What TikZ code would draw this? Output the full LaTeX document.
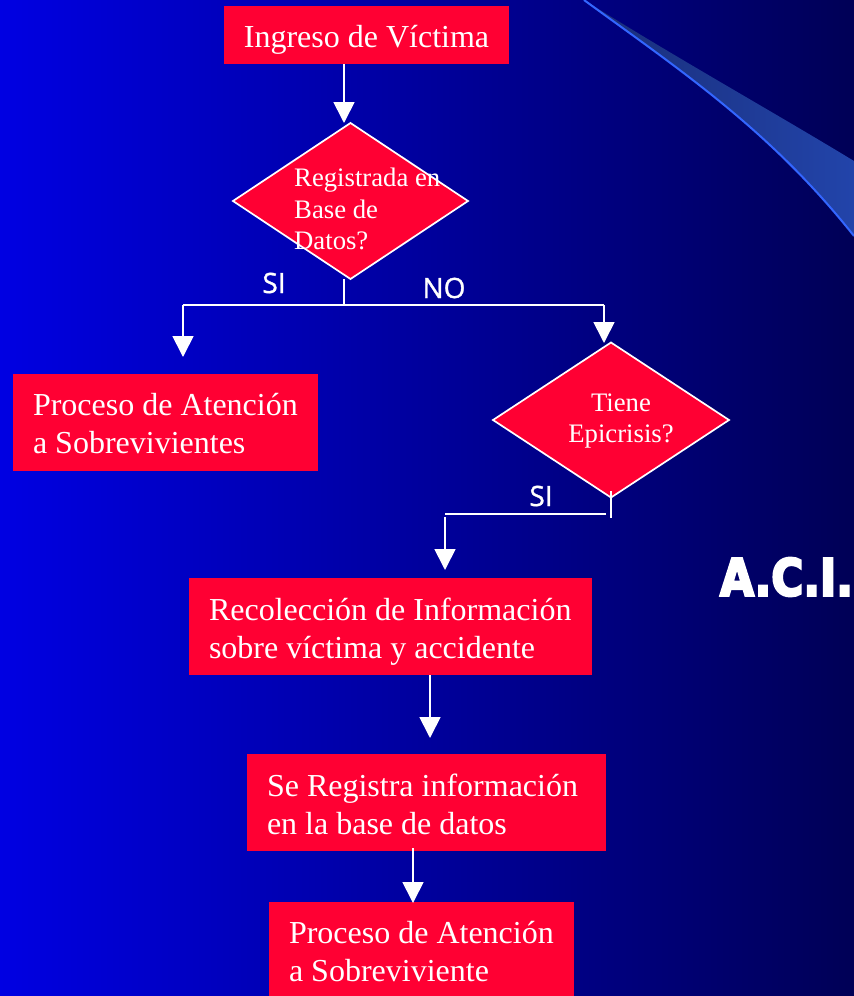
\documentclass[tikz,border=0pt]{standalone}
\usepackage{fontspec}
\setmainfont{Liberation Serif}
\newfontfamily\labelfont[FakeBold=1.1]{Open Sans}
\newfontfamily\acifont[FakeBold=5]{DejaVu Sans Bold}
\usetikzlibrary{shapes.geometric,arrows.meta}
\definecolor{boxred}{RGB}{255,0,51}
\definecolor{bgleft}{RGB}{0,0,226}
\definecolor{bgright}{RGB}{0,0,86}
\newcommand{\liftline}[1]{\rule{0pt}{#1pt}}
\tikzset{
  flowbox/.style={fill=boxred,text=white,inner xsep=20pt,inner ysep=0pt,outer sep=0pt,align=flush left,font=\fontsize{32}{38}\selectfont},
  decision/.style={diamond,fill=boxred,draw=white,line width=1.7pt,inner sep=0pt,outer sep=0pt},
  decisiontext/.style={text=white,inner sep=0pt,font=\fontsize{26.7}{31.5}\selectfont},
  conn/.style={draw=white,line width=1.7pt},
  arrowconn/.style={conn,-{Triangle[length=21pt,width=21pt,fill=white]}},
  branchlabel/.style={text=white,inner sep=0pt,font=\labelfont\fontsize{28}{30}\selectfont}
}
\begin{document}
\begin{tikzpicture}[x=1pt,y=-1pt]
\useasboundingbox (0,0) rectangle (854,996);
\shade[left color=bgleft,right color=bgright] (0,0) rectangle (854,996);
% swoosh
\begin{scope}
\clip (0,0) rectangle (854,996);
\shade[left color={rgb,255:red,25;green,45;blue,120},right color={rgb,255:red,34;green,68;blue,170}]
  (584,0) .. controls (680,60) and (770,110) .. (854,161) -- (854,236) .. controls (770,130) and (680,70) .. (584,0) -- cycle;
\draw[line width=2pt,color={rgb,255:red,51;green,102;blue,255}]
  (584,0) .. controls (680,70) and (770,130) .. (854,236);
\end{scope}
% boxes
\node[flowbox,minimum width=285pt,minimum height=58pt,align=center] (ingreso) at (366.5,35) {\liftline{36.6}\strut Ingreso de Víctima};
\node[flowbox,text width=265pt,minimum height=97pt] (atencion) at (165.5,422.5) {\liftline{35}\strut Proceso de Atención\\\strut a Sobrevivientes};
\node[flowbox,text width=363pt,minimum height=97pt] (recoleccion) at (390.5,626.5) {\liftline{36.6}\strut Recolección de Información\\\strut sobre víctima y accidente};
\node[flowbox,text width=319pt,minimum height=97pt] (registra) at (426.5,802.5) {\liftline{36.6}\strut Se Registra información\\\strut en la base de datos};
\node[flowbox,text width=265pt,minimum height=94pt] (final) at (421.5,949) {\liftline{38.6}\strut Proceso de Atención\\\strut a Sobreviviente};
% diamonds
\node[decision,minimum width=235pt,minimum height=156pt,aspect=1.5] (registrada) at (350.5,201) {};
\node[decision,minimum width=236pt,minimum height=155pt,aspect=1.5] (epicrisis) at (611,420) {};
\node[decisiontext,align=flush left,anchor=north west] (registradatext) at (294,168) {Registrada en\\Base de\\Datos?};
\node[decisiontext,align=center] (epicrisistext) at (621,421) {Tiene\\Epicrisis?};
% connectors
\coordinate (split) at (344,305);
\coordinate (splitleft) at (183,305);
\coordinate (splitright) at (604,305);
\coordinate (leftend) at (183,357);
\coordinate (rightend) at (604,343);
\coordinate (ingresoend) at (344,123);
\coordinate (secondtop) at (611,491);
\coordinate (secondbottom) at (611,518);
\coordinate (sihstart) at (606,514);
\coordinate (sihend) at (445,514);
\coordinate (sivstart) at (445,517);
\coordinate (siend) at (445,570);
\draw[arrowconn] ([xshift=-22.5pt]ingreso.south) -- (ingresoend);
\draw[conn] ([xshift=-6.5pt]registrada.south) -- (split);
\draw[conn] (split) -- (splitleft);
\draw[arrowconn] (splitleft) -- (leftend);
\draw[conn] (split) -- (splitright);
\draw[arrowconn] (splitright) -- (rightend);
\draw[conn] (secondtop) -- (secondbottom);
\draw[conn] (sihstart) -- (sihend);
\draw[arrowconn] (sivstart) -- (siend);
\coordinate (recend) at (430,738);
\draw[arrowconn] (recoleccion.south -| recend) -- (recend);
\coordinate (regend) at (413,903);
\draw[arrowconn] ([yshift=3pt]registra.south -| regend) -- (regend);
% labels
\node[branchlabel] (si1) at (274,283) {SI};
\node[branchlabel] (no1) at (444,288) {NO};
\node[branchlabel] (si2) at (541,496) {SI};
\node[text=white,inner sep=0pt,font=\acifont\fontsize{47}{50}\selectfont,xscale=0.93,yscale=1.08,transform shape] (aci) at (786.5,577) {A.C.I.};
\end{tikzpicture}
\end{document}
